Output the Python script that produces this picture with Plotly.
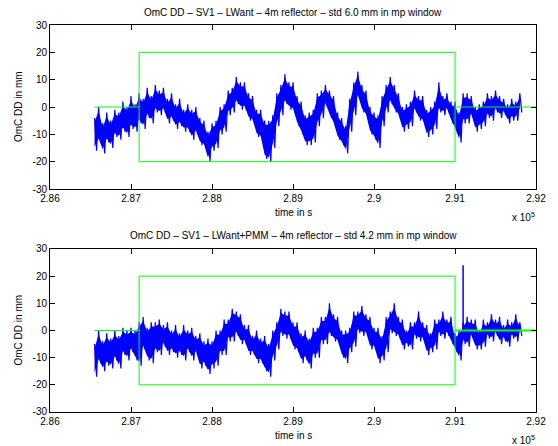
import numpy as np
import plotly.graph_objects as go

# ---------------- data (x in units of 1e5 s, y in mm) ----------------
t_start, t_step = 2.8655, 0.0005

top_hi = [-4, 0, -6, -2, -5, -1, -2, 2, 0, 4,
          1, 5, 3, 7, 4, 8, 6, 7, 3, 5,
          1, 3, -1, 1, -1, 0, -4, -5, -9, -6,
          -5, 0, 1, 6, 7, 11, 9, 9, 5, 4,
          -1, -1, -5, -5, -3, 5, 8, 12, 9, 9,
          4, 2, -3, -2, -1, 5, 6, 8, 6, 4,
          -2, -4, -7, 3, 9, 13, 8, 6, 0, -2,
          -3, 4, 8, 11, 8, 5, 0, 1, 2, 6,
          4, 4, -1, 0, 2, 9, 4, 5, 2, 2,
          -2, 5, 5, 4, 0, 1, 2, 5, 4, 6,
          4, 3, 1, 3, 2, 5]
top_lo = [-16, -13, -17, -13, -15, -11, -12, -9, -11, -8,
          -9, -6, -8, -4, -6, -2, -3, -2, -6, -5,
          -8, -7, -9, -9, -12, -10, -14, -15, -20, -16,
          -15, -10, -9, -3, -2, 1, -1, -1, -5, -6,
          -11, -12, -19, -20, -15, -7, -3, 1, -1, -2,
          -7, -10, -14, -14, -13, -7, -4, 0, -4, -7,
          -12, -14, -17, -9, -3, 3, -2, -4, -10, -12,
          -15, -7, -2, 1, -2, -4, -9, -8, -7, -2,
          -5, -6, -11, -10, -8, -2, -3, -2, -6, -9,
          -13, -6, -6, -4, -9, -8, -7, -4, -5, -2,
          -4, -3, -6, -5, -5, -2]

bot_hi = [-5, 0, -4, -1, -3, 0, -2, 1, 0, 1,
          0, 3, 5, 1, 3, 3, 4, 2, 3, 0,
          2, -1, 2, 0, 1, -2, -1, -4, -3, -4,
          0, 0, 4, 4, 8, 7, 6, 2, 2, -2,
          0, -3, -2, -5, 0, 3, 8, 7, 7, 3,
          3, -1, 0, -3, 1, 1, 5, 5, 10, 6,
          5, 0, 0, 1, 7, 7, 9, 6, 5, 1,
          1, -2, 5, 7, 10, 5, 4, 0, 3, 3,
          7, 3, 2, -1, 4, 4, 7, 4, 5, -1,
          0, 3, 5, 4, 4, 0, 4, 3, 6, 4,
          5, 2, 4, 3, 6, 3]
bot_lo = [-17, -12, -15, -13, -14, -11, -14, -9, -11, -8,
          -11, -13, -7, -11, -12, -8, -9, -6, -9, -8,
          -10, -9, -11, -8, -11, -9, -14, -13, -16, -14,
          -13, -9, -9, -4, -4, -2, -5, -5, -9, -9,
          -12, -12, -15, -17, -11, -7, -2, -3, -3, -7,
          -8, -12, -11, -14, -10, -10, -5, -5, -2, -4,
          -5, -10, -12, -8, -6, -1, -2, -2, -7, -7,
          -12, -11, -8, -1, -2, -3, -7, -6, -7, -3,
          -4, -4, -9, -8, -7, -2, -3, -2, -5, -8,
          -11, -5, -6, -3, -7, -7, -6, -3, -4, -2,
          -5, -4, -6, -3, -4, -2]

bot_spike_t = [2.9110]
bot_spike_lo = [-2]
bot_spike_hi = [24]

window_start, window_end, window_half = 2.871, 2.910, 20
ref_line_start, ref_line_end = 2.8655, 2.92

x_tickvals = [2.86, 2.87, 2.88, 2.89, 2.90, 2.91, 2.92]
x_ticktext = ["2.86", "2.87", "2.88", "2.89", "2.9", "2.91", "2.92"]
y_tickvals = [-30, -20, -10, 0, 10, 20, 30]
y_ticktext = ["-30", "-20", "-10", "0", "10", "20", "30"]

titles = ["OmC DD \u2013 SV1 \u2013 LWant \u2013 4m reflector \u2013 std 6.0 mm in mp window",
          "OmC DD \u2013 SV1 \u2013 LWant+PMM \u2013 4m reflector \u2013 std 4.2 mm in mp window"]

BLUE = "rgb(0,0,255)"
GREEN = "rgb(0,255,0)"
FONT = "Liberation Sans, Arial, Helvetica, sans-serif"
FRINGE = 1.5  # part of the band drawn only by the noisy strokes (visual style)

fig = go.Figure()


def add_signal(hi, lo, xa, ya):
    n = len(hi)
    t = list(np.round(t_start + t_step * np.arange(n), 6))
    hi_a, lo_a = np.array(hi, float), np.array(lo, float)
    mid = (hi_a + lo_a) / 2
    core_hi = np.maximum(hi_a - FRINGE, mid)
    core_lo = np.minimum(lo_a + FRINGE, mid)
    # solid core of the noisy band
    fig.add_trace(go.Scatter(x=t + t[::-1], y=list(core_hi) + list(core_lo)[::-1], fill="toself",
                             fillcolor=BLUE, line=dict(width=0), mode="lines",
                             xaxis=xa, yaxis=ya, hoverinfo="skip", showlegend=False))
    # zig-zag noise strokes reaching the read extremes
    zx, zy = [], []
    for i in range(n):
        zx += [t[i], t[i] + t_step / 2]
        zy += [hi[i], lo[i]]
    fig.add_trace(go.Scatter(x=zx, y=zy, mode="lines", line=dict(color=BLUE, width=1.2),
                             xaxis=xa, yaxis=ya, showlegend=False))


def add_window(xa, ya, right_width):
    fig.add_trace(go.Scatter(x=[window_start, window_start, window_end, window_end, window_start],
                             y=[-window_half, window_half, window_half, -window_half, -window_half],
                             mode="lines", line=dict(color=GREEN, width=1),
                             xaxis=xa, yaxis=ya, showlegend=False))
    fig.add_trace(go.Scatter(x=[ref_line_start, window_start], y=[0, 0], mode="lines",
                             line=dict(color=GREEN, width=1), xaxis=xa, yaxis=ya, showlegend=False))
    fig.add_trace(go.Scatter(x=[window_end, ref_line_end], y=[0, 0], mode="lines",
                             line=dict(color=GREEN, width=right_width), xaxis=xa, yaxis=ya,
                             showlegend=False))


add_signal(top_hi, top_lo, "x", "y")
add_window("x", "y", 1)
add_signal(bot_hi, bot_lo, "x2", "y2")
for st, sl, sh in zip(bot_spike_t, bot_spike_lo, bot_spike_hi):
    fig.add_trace(go.Scatter(x=[st, st], y=[sl, sh], mode="lines", line=dict(color=BLUE, width=1.5),
                             xaxis="x2", yaxis="y2", showlegend=False))
add_window("x2", "y2", 2)

ax_common = dict(showline=True, linecolor="black", linewidth=1, mirror="ticks",
                 ticks="inside", ticklen=5, tickcolor="black", tickwidth=1,
                 showgrid=False, zeroline=False, tickfont=dict(family=FONT, size=10, color="black"))

fig.update_layout(
    width=558, height=446,
    margin=dict(l=50, r=19, t=25, b=34),
    paper_bgcolor="white", plot_bgcolor="white",
    font=dict(family=FONT, size=10, color="black"),
    xaxis=dict(domain=[0, 1], anchor="y", range=[2.86, 2.92], tickvals=x_tickvals,
               ticktext=x_ticktext, **ax_common),
    yaxis=dict(domain=[0.5762, 1], anchor="x", range=[-30, 30], tickvals=y_tickvals,
               ticktext=y_ticktext, **ax_common),
    xaxis2=dict(domain=[0, 1], anchor="y2", range=[2.86, 2.92], tickvals=x_tickvals,
                ticktext=x_ticktext, **ax_common),
    yaxis2=dict(domain=[0, 0.4212], anchor="x2", range=[-30, 30], tickvals=y_tickvals,
                ticktext=y_ticktext, **ax_common),
)

for k, (xd, yd) in enumerate([("x domain", "y domain"), ("x2 domain", "y2 domain")]):
    fig.add_annotation(text=titles[k], xref=xd, yref=yd, x=0.5, y=1, yshift=13,
                       xanchor="center", yanchor="middle", showarrow=False, font=dict(size=10))
    fig.add_annotation(text="time in s", xref=xd, yref=yd, x=0.5, y=0, yshift=-23,
                       xanchor="center", yanchor="middle", showarrow=False, font=dict(size=10))
    fig.add_annotation(text="x 10<sup>5</sup>", xref=xd, yref=yd, x=1, y=0, yshift=-28,
                       xshift=1, xanchor="right", yanchor="middle", showarrow=False,
                       font=dict(size=10))
    fig.add_annotation(text="OmC DD in mm", xref="paper", yref=yd, x=0, xshift=-32, y=0.5,
                       xanchor="center", yanchor="middle", textangle=-90, showarrow=False,
                       font=dict(size=10))

fig.write_html("out.html", config={"displayModeBar": False},
               post_script="document.body.style.margin='0';document.body.style.overflow='hidden';")
